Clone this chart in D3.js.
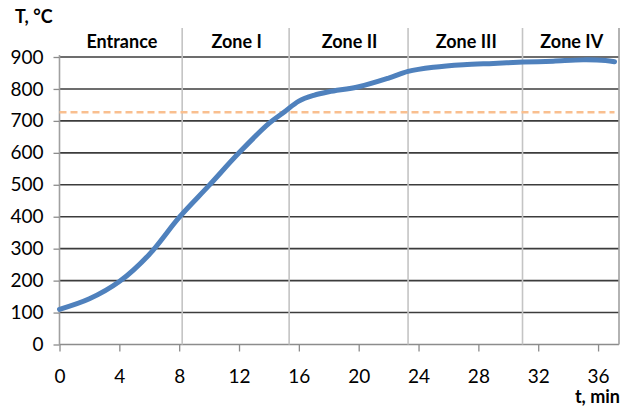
<!DOCTYPE html>
<html>
<head>
<meta charset="utf-8">
<script src="https://cdn.jsdelivr.net/npm/d3@7"></script>
<style>
  body { margin: 0; background: #fff; }
  svg text { font-family: Lato, sans-serif; fill: #000; }
</style>
</head>
<body>
<svg id="chart" width="628" height="408"></svg>
<script>
// time, min and temperature, °C
var times = [0, 2, 4, 6, 8, 10, 12, 14, 15, 16, 17, 18, 20, 22, 23.3, 25, 27, 29, 31, 33, 35, 36.5, 37.1];
var temps = [110, 143, 197, 282, 398, 498, 600, 692, 727, 762, 780, 791, 807, 834, 855, 868, 876, 880, 884, 887, 891, 889, 885];

// zone edges along the time axis and their names
var zoneEdges = [0, 8.2, 15.35, 23.3, 30.95, 37.4];
var zoneNames = ["Entrance", "Zone I", "Zone II", "Zone III", "Zone IV"];

// axis ticks and the dashed reference temperature
var xTicks = [0, 4, 8, 12, 16, 20, 24, 28, 32, 36];
var yTicks = [0, 100, 200, 300, 400, 500, 600, 700, 800, 900];
var refTemp = 727;

var svg = d3.select("#chart");

// scales
var x = d3.scaleLinear().domain([0, 37.4]).range([59.5, 619]);
var y = d3.scaleLinear().domain([0, 900]).range([344.5, 57]);

var data = times.map(function(t, i) { return {t: t, v: temps[i]}; });

// horizontal grid lines
svg.append("g")
  .selectAll("line")
  .data(yTicks)
  .join("line")
    .attr("x1", x(0))
    .attr("x2", x(37.4))
    .attr("y1", function(d) { return y(d); })
    .attr("y2", function(d) { return y(d); })
    .attr("stroke", function(d) { return d === 0 ? "#8c8c8c" : "#3c3c3c"; })
    .attr("stroke-width", 1.6);

// zone separators, they reach above the plot into the header
svg.append("g")
  .selectAll("line")
  .data(zoneEdges)
  .join("line")
    .attr("x1", function(d) { return x(d); })
    .attr("x2", function(d) { return x(d); })
    .attr("y1", function(d, i) { return i === 0 ? y(900) - 2 : 28; })
    .attr("y2", y(0))
    .attr("stroke", function(d, i) { return i === 0 || i === zoneEdges.length - 1 ? "#a0a0a0" : "#c4c4c4"; })
    .attr("stroke-width", 1.6);

// zone labels
svg.append("g")
  .selectAll("text")
  .data(zoneNames)
  .join("text")
    .attr("x", function(d, i) { return (x(zoneEdges[i]) + x(zoneEdges[i + 1])) / 2 + 1; })
    .attr("y", 48)
    .attr("text-anchor", "middle")
    .attr("font-weight", "bold")
    .attr("font-size", 18)
    .text(function(d) { return d; });

// y axis
var yAxis = svg.append("g")
  .attr("transform", "translate(" + x(0) + ",0)")
  .call(d3.axisLeft(y).tickValues(yTicks).tickSize(6).tickPadding(10));

// x axis
var xAxis = svg.append("g")
  .attr("transform", "translate(0," + y(0) + ")")
  .call(d3.axisBottom(x).tickValues(xTicks).tickSize(7).tickPadding(18));

[yAxis, xAxis].forEach(function(a) {
  a.select(".domain").remove();
  a.selectAll(".tick line").attr("stroke", "#8c8c8c").attr("stroke-width", 1.3);
  a.selectAll(".tick text").attr("font-size", 19).attr("fill", "#000");
});

// dashed reference line
svg.append("line")
  .attr("x1", x(0))
  .attr("x2", x(37.1))
  .attr("y1", y(refTemp))
  .attr("y2", y(refTemp))
  .attr("stroke", "#f9bf8f")
  .attr("stroke-width", 2.5)
  .attr("stroke-dasharray", "7,4");

// temperature curve
var line = d3.line()
  .curve(d3.curveCatmullRom.alpha(0.5))
  .x(function(d) { return x(d.t); })
  .y(function(d) { return y(d.v); });

svg.append("path")
  .datum(data)
  .attr("fill", "none")
  .attr("stroke", "#4f81bd")
  .attr("stroke-width", 5)
  .attr("stroke-linecap", "round")
  .attr("d", line);

// axis titles
svg.append("text")
  .attr("x", 15)
  .attr("y", 23)
  .attr("font-weight", "bold")
  .attr("font-size", 18)
  .text("T, °C");

svg.append("text")
  .attr("x", 620)
  .attr("y", 403)
  .attr("text-anchor", "end")
  .attr("font-weight", "bold")
  .attr("font-size", 18)
  .text("t, min");
</script>
</body>
</html>
